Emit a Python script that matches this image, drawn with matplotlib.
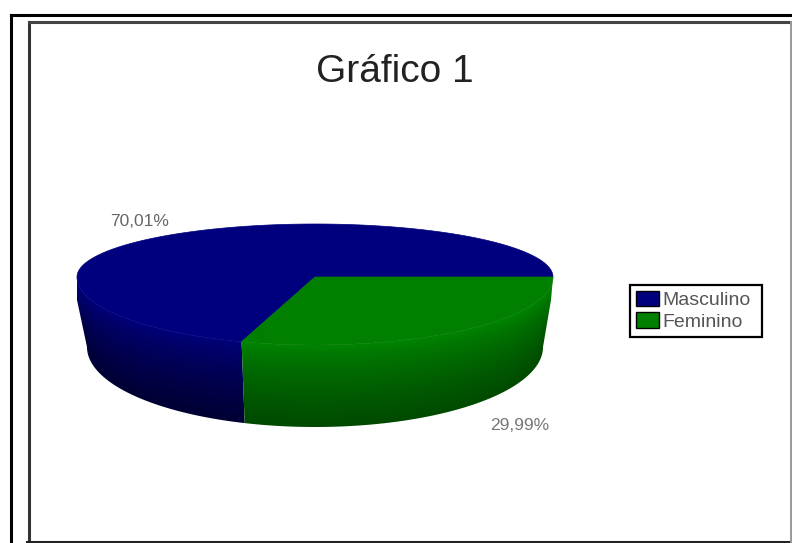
import numpy as np
import matplotlib
matplotlib.use("Agg")
import matplotlib.pyplot as plt
from matplotlib.colors import LinearSegmentedColormap
from matplotlib.patches import Polygon, Rectangle

title = "Gráfico 1"
categories = ["Masculino", "Feminino"]
values = [70.01, 29.99]
value_labels = ["70,01%", "29,99%"]
colors = ["#00007f", "#007f00"]
rim_colors = ["#00007c", "#008600"]
dark_colors = ["#000034", "#004a00"]

# pie geometry in image pixels, the tilt makes the front half look bigger
cx, cy = 315, 277
rx, ry_back, ry_front = 238, 53, 68
# the base is a smaller ellipse, so the side tapers downwards
base_cy, base_rx, base_ry = 347, 228, 80
shoulder = 23


def top_point(deg):
    a = np.radians(deg)
    s = np.sin(a)
    ry = ry_back if s >= 0 else ry_front
    return cx + rx * np.cos(a), cy - ry * s


def top_arc(start, stop):
    return np.array([top_point(d) for d in np.linspace(start, stop, 200)])


def base_arc(start, stop):
    a = np.radians(np.linspace(start, stop, 200))
    return np.column_stack([cx + base_rx * np.cos(a), base_cy - base_ry * np.sin(a)])


fig = plt.figure(figsize=(7.92, 5.43), dpi=100)
ax = fig.add_axes([0, 0, 1, 1])
ax.set_xlim(0, 792)
ax.set_ylim(543, 0)
ax.axis("off")

ax.plot([10.5, 10.5], [543, 14.5], color="black", lw=2.2, solid_capstyle="projecting")
ax.plot([10.5, 792], [14.5, 14.5], color="black", lw=2.2, solid_capstyle="projecting")
ax.plot([28.5, 28.5], [541.5, 21.5], color="#333333", lw=2.2)
ax.plot([28.5, 791.5], [21.5, 21.5], color="#444444", lw=2.2)
ax.plot([27, 791.5], [541.5, 541.5], color="#222222", lw=2.2)
ax.plot([791, 791], [21.5, 541.5], color="#999999", lw=1.4)

green_sweep = values[1] / sum(values) * 360

# shade the side from the rim of the top face down to the base
xs = np.arange(cx - rx, cx + rx + 1, 1.0)
ys = np.arange(cy, base_cy + base_ry + 2, 1.0)
gx, gy = np.meshgrid(xs, ys)
rim_y = cy + ry_front * np.sqrt(np.clip(1 - ((gx - cx) / rx) ** 2, 0, 1))
low_y = base_cy + base_ry * np.sqrt(np.clip(1 - ((gx - cx) / base_rx) ** 2, 0, 1))
shade = np.clip((gy - rim_y) / (low_y - rim_y), 0, 1) ** 0.7

for start, stop, i in [(180, 360 - green_sweep, 0), (-green_sweep, 0, 1)]:
    cmap = LinearSegmentedColormap.from_list("side", [rim_colors[i], dark_colors[i]])
    outline = [top_arc(start, stop), base_arc(start, stop)[::-1]]
    # the widest point of the rim sits a little below the pie centre
    if i == 0:
        outline.append([[cx - rx, cy + shoulder]])
    else:
        outline.insert(1, [[cx + rx - 2, cy + shoulder]])
    side = Polygon(np.vstack(outline), closed=True, fc="none", ec="none")
    ax.add_patch(side)
    grad = ax.imshow(shade, cmap=cmap, vmin=0, vmax=1, aspect="auto", interpolation="bilinear",
                     extent=(xs[0], xs[-1], ys[-1], ys[0]), zorder=1)
    grad.set_clip_path(side)

for start, stop, i in [(0, 360 - green_sweep, 0), (-green_sweep, 0, 1)]:
    ax.add_patch(Polygon(np.vstack([[cx, cy], top_arc(start, stop)]), closed=True,
                         fc=colors[i], ec=colors[i], lw=0.5, zorder=2))

ax.set_xlim(0, 792)
ax.set_ylim(543, 0)

ax.text(394.5, 82, title, ha="center", va="baseline", fontsize=28, family="Liberation Sans", color="#222222")
ax.text(140, 221, value_labels[0], ha="center", va="center", fontsize=12.5, family="Liberation Sans", color="#666666")
ax.text(520, 425, value_labels[1], ha="center", va="center", fontsize=12.5, family="Liberation Sans", color="#777777")

handles = [Rectangle((0, 0), 1, 1, fc=c, ec="black", lw=1) for c in colors]
leg = ax.legend(handles, categories, loc="upper left", bbox_to_anchor=(630 / 792, 1 - 285 / 543, 132 / 792, 0),
                bbox_transform=fig.transFigure, mode="expand", fancybox=False, framealpha=1, edgecolor="black",
                prop={"family": "Liberation Sans", "size": 14}, labelcolor="#555555",
                borderaxespad=0, borderpad=0.3, handlelength=1.2, handleheight=0.85,
                handletextpad=0.15, labelspacing=0.15)
leg.get_frame().set_linewidth(1.6)

fig.savefig("out.png", dpi=100)
